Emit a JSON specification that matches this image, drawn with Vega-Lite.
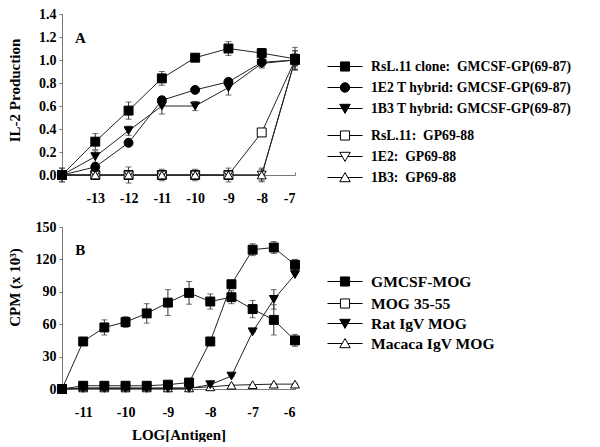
{
  "$schema": "https://vega.github.io/schema/vega-lite/v6.json",
  "background": "white",
  "padding": {"left": 7, "top": 7, "right": 0, "bottom": 0},
  "spacing": 15,
  "config": {
    "font": "Liberation Serif",
    "view": {"stroke": null},
    "axis": {
      "labelFont": "Liberation Serif", "labelFontWeight": "bold", "labelFontSize": 14, "labelColor": "black",
      "titleFont": "Liberation Serif", "titleFontWeight": "bold", "titleFontSize": 15, "titleColor": "black",
      "domainColor": "#777", "tickColor": "#777", "grid": false
    },
    "axisY": {"tickSize": 3, "labelPadding": 3, "minExtent": 30, "maxExtent": 30, "titlePadding": 10},
    "axisX": {"tickSize": -3, "labelPadding": 19, "titlePadding": 8},
    "legend": {
      "labelFont": "Liberation Serif", "labelFontWeight": "bold", "labelFontSize": 13.7, "labelColor": "black", "labelLimit": 400,
      "symbolSize": 1225, "clipHeight": 13, "rowPadding": 6, "labelOffset": 8, "padding": 0, "symbolStrokeWidth": 1,
      "orient": "none"
    }
  },
  "vconcat": [
    {
      "width": 233,
      "height": 161,
      "data": {"values": [
        {"s": "RsL.11:\u00a0 GP69-88", "x": -14, "y": 0, "e": 0.06},
        {"s": "RsL.11:\u00a0 GP69-88", "x": -13, "y": 0, "e": 0},
        {"s": "RsL.11:\u00a0 GP69-88", "x": -12, "y": 0, "e": 0.07},
        {"s": "RsL.11:\u00a0 GP69-88", "x": -11, "y": 0, "e": 0.05},
        {"s": "RsL.11:\u00a0 GP69-88", "x": -10, "y": 0, "e": 0.05},
        {"s": "RsL.11:\u00a0 GP69-88", "x": -9, "y": 0, "e": 0.06},
        {"s": "RsL.11:\u00a0 GP69-88", "x": -8, "y": 0.37, "e": 0.02},
        {"s": "RsL.11:\u00a0 GP69-88", "x": -7, "y": 1.0, "e": 0.05},
        {"s": "1E2:\u00a0 GP69-88", "x": -14, "y": 0, "e": 0},
        {"s": "1E2:\u00a0 GP69-88", "x": -13, "y": 0, "e": 0},
        {"s": "1E2:\u00a0 GP69-88", "x": -12, "y": 0, "e": 0},
        {"s": "1E2:\u00a0 GP69-88", "x": -11, "y": 0, "e": 0},
        {"s": "1E2:\u00a0 GP69-88", "x": -10, "y": 0, "e": 0},
        {"s": "1E2:\u00a0 GP69-88", "x": -9, "y": 0, "e": 0},
        {"s": "1E2:\u00a0 GP69-88", "x": -8, "y": 0, "e": 0.05},
        {"s": "1E2:\u00a0 GP69-88", "x": -7, "y": 1.0, "e": 0.05},
        {"s": "1B3:\u00a0 GP69-88", "x": -14, "y": 0, "e": 0},
        {"s": "1B3:\u00a0 GP69-88", "x": -13, "y": 0, "e": 0},
        {"s": "1B3:\u00a0 GP69-88", "x": -12, "y": 0, "e": 0},
        {"s": "1B3:\u00a0 GP69-88", "x": -11, "y": 0, "e": 0},
        {"s": "1B3:\u00a0 GP69-88", "x": -10, "y": 0, "e": 0},
        {"s": "1B3:\u00a0 GP69-88", "x": -9, "y": 0, "e": 0},
        {"s": "1B3:\u00a0 GP69-88", "x": -8, "y": 0, "e": 0.06},
        {"s": "1B3:\u00a0 GP69-88", "x": -7, "y": 1.0, "e": 0.05},
        {"s": "1B3 T hybrid: GMCSF-GP(69-87)", "x": -14, "y": 0, "e": 0.02},
        {"s": "1B3 T hybrid: GMCSF-GP(69-87)", "x": -13, "y": 0.16, "e": 0.05},
        {"s": "1B3 T hybrid: GMCSF-GP(69-87)", "x": -12, "y": 0.385, "e": 0.04},
        {"s": "1B3 T hybrid: GMCSF-GP(69-87)", "x": -11, "y": 0.6, "e": 0.07},
        {"s": "1B3 T hybrid: GMCSF-GP(69-87)", "x": -10, "y": 0.6, "e": 0.04},
        {"s": "1B3 T hybrid: GMCSF-GP(69-87)", "x": -9, "y": 0.76, "e": 0.065},
        {"s": "1B3 T hybrid: GMCSF-GP(69-87)", "x": -8, "y": 0.97, "e": 0.04},
        {"s": "1B3 T hybrid: GMCSF-GP(69-87)", "x": -7, "y": 1.0, "e": 0.08},
        {"s": "1E2 T hybrid: GMCSF-GP(69-87)", "x": -14, "y": 0, "e": 0.03},
        {"s": "1E2 T hybrid: GMCSF-GP(69-87)", "x": -13, "y": 0.07, "e": 0.03},
        {"s": "1E2 T hybrid: GMCSF-GP(69-87)", "x": -12, "y": 0.28, "e": 0.03},
        {"s": "1E2 T hybrid: GMCSF-GP(69-87)", "x": -11, "y": 0.65, "e": 0.03},
        {"s": "1E2 T hybrid: GMCSF-GP(69-87)", "x": -10, "y": 0.74, "e": 0.02},
        {"s": "1E2 T hybrid: GMCSF-GP(69-87)", "x": -9, "y": 0.81, "e": 0.03},
        {"s": "1E2 T hybrid: GMCSF-GP(69-87)", "x": -8, "y": 0.98, "e": 0.04},
        {"s": "1E2 T hybrid: GMCSF-GP(69-87)", "x": -7, "y": 1.0, "e": 0.08},
        {"s": "RsL.11 clone:\u00a0 GMCSF-GP(69-87)", "x": -14, "y": 0, "e": 0.06},
        {"s": "RsL.11 clone:\u00a0 GMCSF-GP(69-87)", "x": -13, "y": 0.29, "e": 0.07},
        {"s": "RsL.11 clone:\u00a0 GMCSF-GP(69-87)", "x": -12, "y": 0.56, "e": 0.075},
        {"s": "RsL.11 clone:\u00a0 GMCSF-GP(69-87)", "x": -11, "y": 0.84, "e": 0.06},
        {"s": "RsL.11 clone:\u00a0 GMCSF-GP(69-87)", "x": -10, "y": 1.02, "e": 0.02},
        {"s": "RsL.11 clone:\u00a0 GMCSF-GP(69-87)", "x": -9, "y": 1.1, "e": 0.06},
        {"s": "RsL.11 clone:\u00a0 GMCSF-GP(69-87)", "x": -8, "y": 1.06, "e": 0.04},
        {"s": "RsL.11 clone:\u00a0 GMCSF-GP(69-87)", "x": -7, "y": 1.01, "e": 0.1}
      ]},
      "encoding": {
        "x": {"field": "x", "type": "quantitative", "scale": {"domain": [-14, -7], "nice": false},
              "axis": {"values": [-13, -12, -11, -10, -9, -8, -7], "title": null, "labelExpr": "'' + datum.value"}},
        "y": {"field": "y", "type": "quantitative", "scale": {"domain": [0, 1.4], "nice": false},
              "axis": {"values": [0, 0.2, 0.4, 0.6, 0.8, 1, 1.2, 1.4], "format": ".1f", "title": "IL-2 Production", "titleY": 76}}
      },
      "layer": [
        {"mark": {"type": "line", "color": "#222", "strokeWidth": 1}, "encoding": {"detail": {"field": "s"}}},
        {"mark": {"type": "errorbar", "ticks": {"size": 6, "color": "#333"}, "color": "#333"},
         "encoding": {"yError": {"field": "e"}, "detail": {"field": "s"}}},
        {"mark": {"type": "point", "filled": true, "size": 80, "stroke": "black", "strokeWidth": 1, "opacity": 1},
         "encoding": {
           "shape": {"field": "s", "type": "nominal", "legend": null,
             "scale": {"domain": ["RsL.11 clone:\u00a0 GMCSF-GP(69-87)", "1E2 T hybrid: GMCSF-GP(69-87)", "1B3 T hybrid: GMCSF-GP(69-87)", "RsL.11:\u00a0 GP69-88", "1E2:\u00a0 GP69-88", "1B3:\u00a0 GP69-88"],
                       "range": ["square", "circle", "triangle-down", "square", "triangle-down", "triangle-up"]}},
           "fill": {"field": "s", "type": "nominal", "legend": null,
             "scale": {"domain": ["RsL.11 clone:\u00a0 GMCSF-GP(69-87)", "1E2 T hybrid: GMCSF-GP(69-87)", "1B3 T hybrid: GMCSF-GP(69-87)", "RsL.11:\u00a0 GP69-88", "1E2:\u00a0 GP69-88", "1B3:\u00a0 GP69-88"],
                       "range": ["black", "black", "black", "white", "white", "white"]}}
         }},
        {"transform": [{"filter": "datum.x > 0"}],
         "mark": {"type": "point", "filled": false, "color": "black", "fill": "black", "stroke": "black", "strokeWidth": 1, "opacity": 1},
         "encoding": {
           "shape": {"field": "s", "type": "nominal",
             "scale": {"domain": ["RsL.11 clone:\u00a0 GMCSF-GP(69-87)", "1E2 T hybrid: GMCSF-GP(69-87)", "1B3 T hybrid: GMCSF-GP(69-87)"],
                       "range": ["M-1,0H1M-0.26,-0.26H0.26V0.26H-0.26Z", "M-1,0H1M-0.27,0A0.27,0.27,0,1,0,0.27,0A0.27,0.27,0,1,0,-0.27,0Z", "M-1,0H1M-0.3,-0.24H0.3L0,0.28Z"]},
             "legend": {"orient": "none", "legendX": 265, "legendY": 46, "title": null, "symbolFillColor": "black"}}
         }},
        {"transform": [{"filter": "datum.x > 0"}],
         "mark": {"type": "point", "filled": false, "color": "black", "fill": "white", "stroke": "black", "strokeWidth": 1, "opacity": 1},
         "encoding": {
           "shape": {"field": "s", "type": "nominal",
             "scale": {"domain": ["RsL.11:\u00a0 GP69-88", "1E2:\u00a0 GP69-88", "1B3:\u00a0 GP69-88"],
                       "range": ["M-1,0H-0.26M0.26,0H1M-0.26,-0.26H0.26V0.26H-0.26Z", "M-1,0H-0.16M0.16,0H1M-0.3,-0.24H0.3L0,0.28Z", "M-1,0H-0.16M0.16,0H1M-0.3,0.24H0.3L0,-0.28Z"]},
             "legend": {"orient": "none", "legendX": 265, "legendY": 115, "title": null, "symbolFillColor": "white"}}
         }},
        {"transform": [{"filter": {"and": [{"field": "x", "equal": -14}, {"field": "s", "oneOf": ["RsL.11 clone:\u00a0 GMCSF-GP(69-87)"]}]}}],
         "mark": {"type": "text", "font": "Liberation Serif", "fontWeight": "bold", "fontSize": 15, "fill": "black", "align": "center", "baseline": "middle"},
         "encoding": {"x": {"datum": -13.45}, "y": {"datum": 1.19}, "text": {"value": "A"}}}
      ],
      "resolve": {"scale": {"shape": "independent"}}
    },
    {
      "width": 233,
      "height": 162,
      "data": {"values": [
        {"s": "Macaca IgV MOG", "x": -11.5, "y": 0, "e": 0},
        {"s": "Macaca IgV MOG", "x": -11, "y": 1, "e": 0},
        {"s": "Macaca IgV MOG", "x": -10.5, "y": 1, "e": 0},
        {"s": "Macaca IgV MOG", "x": -10, "y": 1, "e": 0},
        {"s": "Macaca IgV MOG", "x": -9.5, "y": 1, "e": 0},
        {"s": "Macaca IgV MOG", "x": -9, "y": 1, "e": 0},
        {"s": "Macaca IgV MOG", "x": -8.5, "y": 1, "e": 0},
        {"s": "Macaca IgV MOG", "x": -8, "y": 2, "e": 0},
        {"s": "Macaca IgV MOG", "x": -7.5, "y": 3.5, "e": 0},
        {"s": "Macaca IgV MOG", "x": -7, "y": 4, "e": 0},
        {"s": "Macaca IgV MOG", "x": -6.5, "y": 4.5, "e": 0},
        {"s": "Macaca IgV MOG", "x": -6, "y": 4.5, "e": 0},
        {"s": "MOG 35-55", "x": -11.5, "y": 0, "e": 0},
        {"s": "MOG 35-55", "x": -11, "y": 3, "e": 0},
        {"s": "MOG 35-55", "x": -10.5, "y": 3, "e": 0},
        {"s": "MOG 35-55", "x": -10, "y": 3, "e": 0},
        {"s": "MOG 35-55", "x": -9.5, "y": 3, "e": 0},
        {"s": "MOG 35-55", "x": -9, "y": 4, "e": 0},
        {"s": "MOG 35-55", "x": -8.5, "y": 6, "e": 0},
        {"s": "MOG 35-55", "x": -8, "y": 44, "e": 0},
        {"s": "MOG 35-55", "x": -7.5, "y": 97, "e": 0},
        {"s": "MOG 35-55", "x": -7, "y": 129, "e": 5.5},
        {"s": "MOG 35-55", "x": -6.5, "y": 131, "e": 5.5},
        {"s": "MOG 35-55", "x": -6, "y": 115, "e": 5},
        {"s": "Rat IgV MOG", "x": -11.5, "y": 0, "e": 0},
        {"s": "Rat IgV MOG", "x": -11, "y": 0.5, "e": 0},
        {"s": "Rat IgV MOG", "x": -10.5, "y": 0.5, "e": 0},
        {"s": "Rat IgV MOG", "x": -10, "y": 0.5, "e": 0},
        {"s": "Rat IgV MOG", "x": -9.5, "y": 0.5, "e": 0},
        {"s": "Rat IgV MOG", "x": -9, "y": 0.5, "e": 0},
        {"s": "Rat IgV MOG", "x": -8.5, "y": 0.5, "e": 0},
        {"s": "Rat IgV MOG", "x": -8, "y": 4, "e": 0},
        {"s": "Rat IgV MOG", "x": -7.5, "y": 12, "e": 0},
        {"s": "Rat IgV MOG", "x": -7, "y": 53, "e": 0},
        {"s": "Rat IgV MOG", "x": -6.5, "y": 83, "e": 9},
        {"s": "Rat IgV MOG", "x": -6, "y": 106, "e": 0},
        {"s": "GMCSF-MOG", "x": -11.5, "y": 0, "e": 0},
        {"s": "GMCSF-MOG", "x": -11, "y": 44, "e": 0},
        {"s": "GMCSF-MOG", "x": -10.5, "y": 57, "e": 7},
        {"s": "GMCSF-MOG", "x": -10, "y": 62, "e": 5},
        {"s": "GMCSF-MOG", "x": -9.5, "y": 70, "e": 9},
        {"s": "GMCSF-MOG", "x": -9, "y": 80, "e": 12},
        {"s": "GMCSF-MOG", "x": -8.5, "y": 89, "e": 10.5},
        {"s": "GMCSF-MOG", "x": -8, "y": 81, "e": 7},
        {"s": "GMCSF-MOG", "x": -7.5, "y": 85, "e": 6},
        {"s": "GMCSF-MOG", "x": -7, "y": 74, "e": 8},
        {"s": "GMCSF-MOG", "x": -6.5, "y": 64, "e": 14},
        {"s": "GMCSF-MOG", "x": -6, "y": 45, "e": 5.5}
      ]},
      "encoding": {
        "x": {"field": "x", "type": "quantitative", "scale": {"domain": [-11.5, -6], "nice": false},
              "axis": {"values": [-11, -10, -9, -8, -7, -6], "title": "LOG[Antigen]", "labelExpr": "'' + datum.value"}},
        "y": {"field": "y", "type": "quantitative", "scale": {"domain": [0, 150], "nice": false},
              "axis": {"values": [0, 30, 60, 90, 120, 150], "title": "CPM (x 10³)", "titleY": 60}}
      },
      "layer": [
        {"mark": {"type": "line", "color": "#222", "strokeWidth": 1}, "encoding": {"detail": {"field": "s"}}},
        {"mark": {"type": "errorbar", "ticks": {"size": 6, "color": "#333"}, "color": "#333"},
         "encoding": {"yError": {"field": "e"}, "detail": {"field": "s"}}},
        {"mark": {"type": "point", "filled": true, "size": 80, "stroke": "black", "strokeWidth": 1, "opacity": 1},
         "encoding": {
           "shape": {"field": "s", "type": "nominal", "legend": null,
             "scale": {"domain": ["GMCSF-MOG", "MOG 35-55", "Rat IgV MOG", "Macaca IgV MOG"],
                       "range": ["square", "square", "triangle-down", "triangle-up"]}},
           "fill": {"field": "s", "type": "nominal", "legend": null,
             "scale": {"domain": ["GMCSF-MOG", "MOG 35-55", "Rat IgV MOG", "Macaca IgV MOG"],
                       "range": ["black", "white", "black", "white"]}}
         }},
        {"transform": [{"filter": "datum.x > 0"}],
         "mark": {"type": "point", "filled": false, "color": "black", "fill": "black", "stroke": "black", "strokeWidth": 1, "opacity": 1},
         "encoding": {
           "shape": {"field": "s", "type": "nominal",
             "scale": {"domain": ["GMCSF-MOG"], "range": ["M-1,0H1M-0.26,-0.26H0.26V0.26H-0.26Z"]},
             "legend": {"orient": "none", "legendX": 265, "legendY": 48, "title": null, "labelFontSize": 15.6, "symbolFillColor": "black"}}
         }},
        {"transform": [{"filter": "datum.x > 0"}],
         "mark": {"type": "point", "filled": false, "color": "black", "fill": "white", "stroke": "black", "strokeWidth": 1, "opacity": 1},
         "encoding": {
           "shape": {"field": "s", "type": "nominal",
             "scale": {"domain": ["MOG 35-55"], "range": ["M-1,0H-0.26M0.26,0H1M-0.26,-0.26H0.26V0.26H-0.26Z"]},
             "legend": {"orient": "none", "legendX": 265, "legendY": 70, "title": null, "labelFontSize": 15.6, "symbolFillColor": "white"}}
         }},
        {"transform": [{"filter": "datum.x > 0"}],
         "mark": {"type": "point", "filled": false, "color": "black", "fill": "black", "stroke": "black", "strokeWidth": 1, "opacity": 1},
         "encoding": {
           "shape": {"field": "s", "type": "nominal",
             "scale": {"domain": ["Rat IgV MOG"], "range": ["M-1,0H1M-0.3,-0.24H0.3L0,0.28Z"]},
             "legend": {"orient": "none", "legendX": 265, "legendY": 90, "title": null, "labelFontSize": 15.6, "symbolFillColor": "black"}}
         }},
        {"transform": [{"filter": "datum.x > 0"}],
         "mark": {"type": "point", "filled": false, "color": "black", "fill": "white", "stroke": "black", "strokeWidth": 1, "opacity": 1},
         "encoding": {
           "shape": {"field": "s", "type": "nominal",
             "scale": {"domain": ["Macaca IgV MOG"], "range": ["M-1,0H-0.16M0.16,0H1M-0.3,0.24H0.3L0,-0.28Z"]},
             "legend": {"orient": "none", "legendX": 265, "legendY": 110, "title": null, "labelFontSize": 15.6, "symbolFillColor": "white"}}
         }},
        {"transform": [{"filter": {"and": [{"field": "x", "equal": -11.5}, {"field": "s", "oneOf": ["GMCSF-MOG"]}]}}],
         "mark": {"type": "text", "font": "Liberation Serif", "fontWeight": "bold", "fontSize": 15, "fill": "black", "align": "center", "baseline": "middle"},
         "encoding": {"x": {"datum": -11.07}, "y": {"datum": 129}, "text": {"value": "B"}}}
      ],
      "resolve": {"scale": {"shape": "independent"}}
    }
  ]
}
